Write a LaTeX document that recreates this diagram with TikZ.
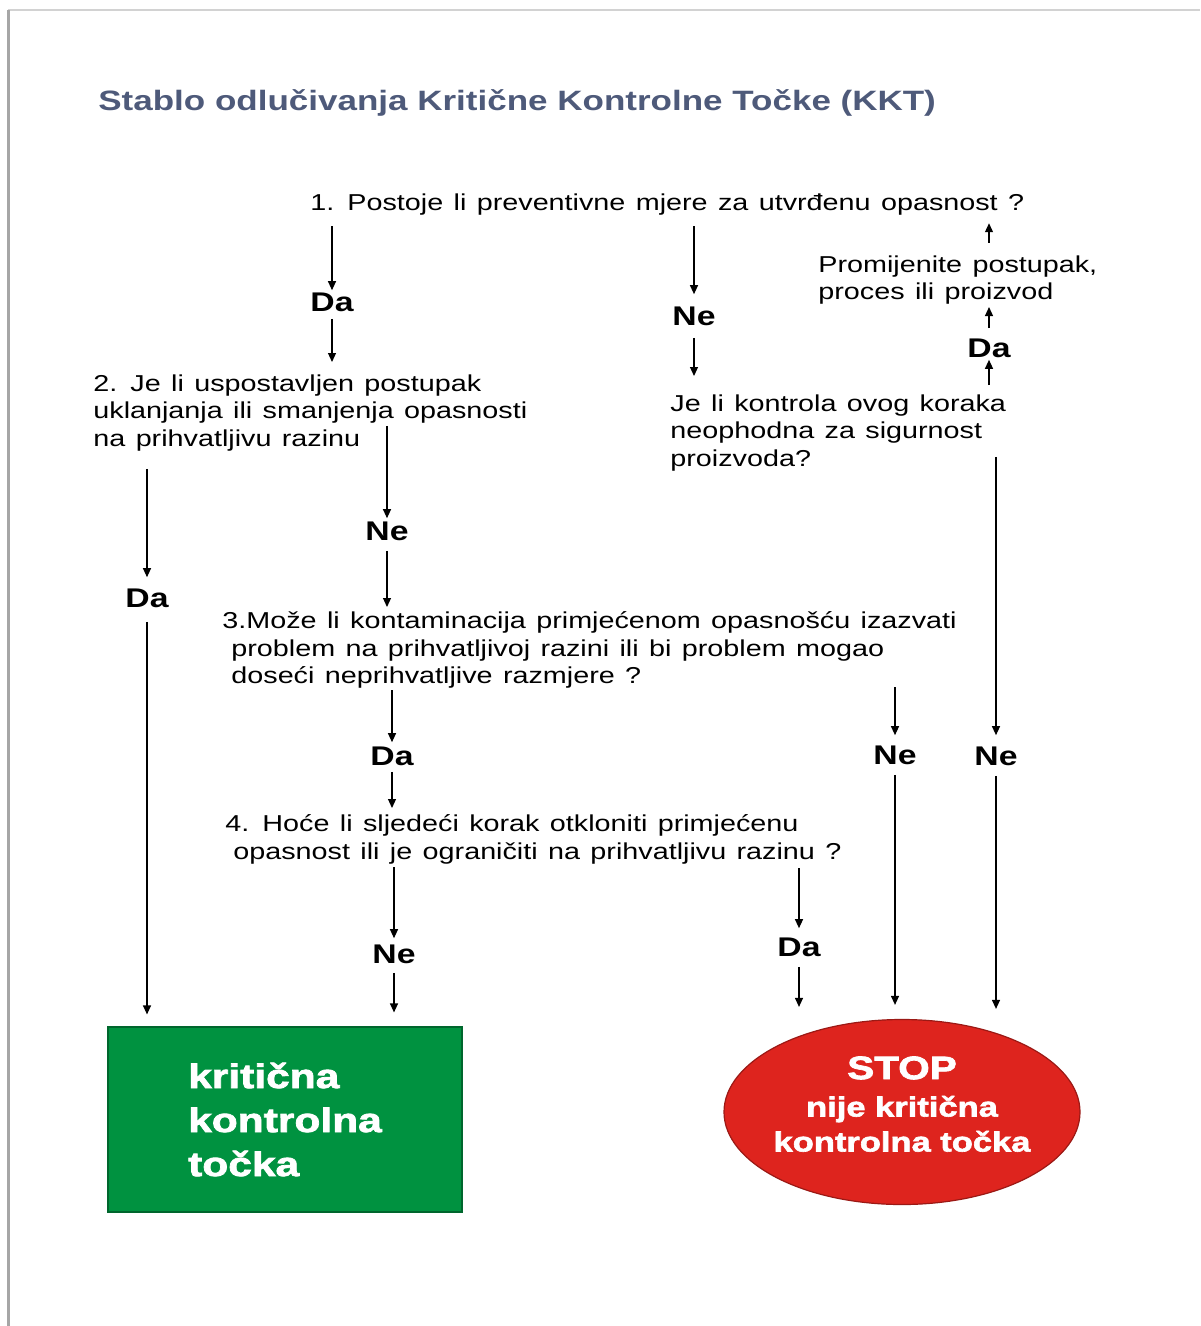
\documentclass[tikz,border=0pt]{standalone}
\usepackage{fontspec}
\setmainfont{Liberation Sans}
\newfontfamily\bodyfont{Liberation Sans}[FakeStretch=1.25,WordSpace=1.3]
\newfontfamily\widefont{Liberation Sans Bold}[FakeStretch=1.25]
\newfontfamily\heavyfont{Liberation Sans Bold}[FakeStretch=1.25,FakeBold=2.2]
\usetikzlibrary{arrows.meta,shapes.geometric}

\definecolor{titleblue}{RGB}{78,90,122}
\definecolor{kktgreen}{RGB}{0,146,64}
\definecolor{stopred}{RGB}{222,36,30}

\tikzset{
  question/.style={anchor=north west, inner sep=0pt, align=left, font=\bodyfont\fontsize{11.5}{13.9}\selectfont},
  answer/.style={inner sep=0pt, font=\widefont\fontsize{13.5}{15}\selectfont},
  flow/.style={line width=0.6pt, -{Triangle[width=4pt,length=4.5pt]}},
  kktbox/.style={fill=kktgreen, draw=kktgreen!70!black, line width=0.6pt, minimum width=177pt, minimum height=92.5pt, inner sep=0pt, align=left, text=white, font=\heavyfont\fontsize{17}{22}\selectfont},
  stopbox/.style={ellipse, fill=stopred, draw=stopred!70!black, line width=0.6pt, minimum width=178pt, minimum height=92.5pt, inner xsep=-1.5pt, inner ysep=0pt, text depth=8pt, align=center, text=white, font=\heavyfont\fontsize{13.8}{17.5}\selectfont}
}

\begin{document}
\begin{tikzpicture}[x=0.5pt, y=-0.5pt]
\useasboundingbox (0,0) rectangle (1200,1326);
\draw[gray!35, line width=1pt] (8,10) -- (1200,10);
\draw[gray!70, line width=1.5pt] (8,10) -- (8,1326);

\node[anchor=base west, inner sep=0pt, text=titleblue, font=\widefont\fontsize{14}{16}\selectfont] (title) at (98,111) {Stablo odlučivanja Kritične Kontrolne Točke (KKT)};

\node[question] (q1) at (310,193) {1. Postoje li preventivne mjere za utvrđenu opasnost ?};
\node[question] (change) at (818,255) {Promijenite postupak,\\proces ili proizvod};
\node[question] (q2) at (93,374) {2. Je li uspostavljen postupak\\uklanjanja ili smanjenja opasnosti\\na prihvatljivu razinu};
\node[question] (q5) at (670,394) {Je li kontrola ovog koraka\\neophodna za sigurnost\\proizvoda?};
\node[question] (q3) at (222,611) {3.Može li kontaminacija primjećenom opasnošću izazvati\\\hspace*{4.5pt}problem na prihvatljivoj razini ili bi problem mogao\\\hspace*{4.5pt}doseći neprihvatljive razmjere ?};
\node[question] (q4) at (225,814) {4. Hoće li sljedeći korak otkloniti primjećenu\\\hspace*{4pt}opasnost ili je ograničiti na prihvatljivu razinu ?};

\node[answer] (da1) at (332,302) {Da};
\node[answer] (ne1) at (694,316) {Ne};
\node[answer] (da2) at (989,348) {Da};
\node[answer] (ne2) at (387,531) {Ne};
\node[answer] (daL) at (147,598) {Da};
\node[answer] (da3) at (392,756) {Da};
\node[answer] (ne3) at (895,755) {Ne};
\node[answer] (neR) at (996,756) {Ne};
\node[answer] (ne4) at (394,954) {Ne};
\node[answer] (da4) at (799,947) {Da};

\node[kktbox] (kkt) at (285,1119.5) {kritična\\kontrolna\\točka};
\node[stopbox] (stop) at (902,1112) {\fontsize{16.2}{17.5}\selectfont STOP\\[1.2pt]nije kritična\\kontrolna točka};

\draw[flow, shorten <=5.5pt, shorten >=1pt] (q1.south -| da1) -- (da1.north);
\draw[flow, shorten <=3.5pt, shorten >=6pt] (da1.south) -- (da1 |- q2.north);
\draw[flow, shorten <=5.5pt, shorten >=6pt] (q1.south -| ne1) -- (ne1.north);
\draw[flow, shorten <=6pt, shorten >=9pt] (ne1.south) -- (ne1 |- q5.north);
\draw[flow, shorten <=4.5pt, shorten >=1pt] (q5.north -| da2) -- (da2.south);
\draw[flow, shorten <=5pt, shorten >=1pt] (da2.north) -- (da2 |- change.south);
\draw[flow, shorten <=6pt, shorten >=4pt] (da2 |- change.north) -- (da2 |- q1.south);
\draw[flow, shorten <=8.5pt, shorten >=5.5pt] (q2.south -| daL) -- (daL.north);
\draw[flow, shorten <=7pt, shorten >=6pt] (daL.south) -- (daL |- kkt.north);
\draw[flow, shorten <=-13pt, shorten >=1.5pt] (q2.south -| ne2) -- (ne2.north);
\draw[flow, shorten <=5pt, shorten >=2pt] (ne2.south) -- (ne2 |- q3.north);
\draw[flow, shorten <=0.5pt, shorten >=2pt] (q3.south -| da3) -- (da3.north);
\draw[flow, shorten <=3pt, shorten >=3pt] (da3.south) -- (da3 |- q4.north);
\draw[flow, shorten <=-1pt, shorten >=5pt] (q3.south -| ne3) -- (ne3.north);
\draw[flow, shorten <=5pt, shorten >=7pt] (ne3.south) -- (ne3 |- stop.north);
\draw[flow, shorten <=-7.5pt, shorten >=5.5pt] (q5.south -| neR) -- (neR.north);
\draw[flow, shorten <=5pt, shorten >=5pt] (neR.south) -- (neR |- stop.north);
\draw[flow, shorten <=1.5pt, shorten >=3pt] (q4.south -| ne4) -- (ne4.north);
\draw[flow, shorten <=4.5pt, shorten >=7pt] (ne4.south) -- (ne4 |- kkt.north);
\draw[flow, shorten <=2pt, shorten >=4.5pt] (q4.south -| da4) -- (da4.north);
\draw[flow, shorten <=5pt, shorten >=6pt] (da4.south) -- (da4 |- stop.north);
\end{tikzpicture}
\end{document}
